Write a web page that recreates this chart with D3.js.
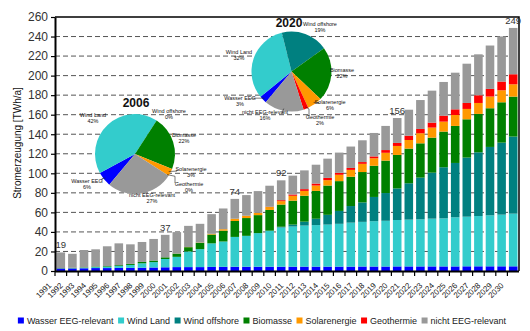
<!DOCTYPE html>
<html>
<head>
<meta charset="utf-8">
<script src="https://cdn.jsdelivr.net/npm/d3@7"></script>
<style>
body { margin: 0; background: #fff; }
svg { font-family: "Liberation Sans", Arial, sans-serif; }
</style>
</head>
<body>
<svg id="chart" width="530" height="331"></svg>
<script>
// categories
var years = [1991, 1992, 1993, 1994, 1995, 1996, 1997, 1998, 1999, 2000,
    2001, 2002, 2003, 2004, 2005, 2006, 2007, 2008, 2009, 2010,
    2011, 2012, 2013, 2014, 2015, 2016, 2017, 2018, 2019, 2020,
    2021, 2022, 2023, 2024, 2025, 2026, 2027, 2028, 2029, 2030]

// TWh/a per series
var wasser = [2.5, 2.6, 2.8, 3.0, 3.0, 3.2, 3.2, 3.4, 3.6, 3.8,
    4.0, 4.0, 4.0, 4.2, 4.3, 4.4, 4.4, 4.4, 4.4, 4.4,
    4.4, 4.5, 4.5, 4.5, 4.5, 4.5, 4.6, 4.6, 4.6, 4.7,
    4.7, 4.7, 4.7, 4.7, 4.7, 4.8, 4.8, 4.8, 4.8, 4.8]
var windLand = [0.2, 0.3, 0.6, 1.0, 1.5, 2.0, 3.0, 4.5, 5.5, 8.5,
    10.5, 16.0, 18.4, 24.1, 25.9, 30.5, 31.6, 34.4, 36.6, 40.1,
    41.1, 42.0, 42.5, 43.0, 43.8, 45.0, 45.7, 46.4, 46.8, 47.5,
    47.9, 48.2, 48.9, 49.2, 50.3, 50.8, 51.5, 52.2, 52.9, 53.9]
var windOffshore = [0, 0, 0, 0, 0, 0, 0, 0, 0, 0,
    0, 0, 0, 0, 0, 0, 0, 0, 0.3, 0.8,
    2.0, 4.0, 6.5, 10.0, 13.2, 17.0, 19.9, 24.8, 28.4, 32.3,
    37.2, 42.7, 47.1, 52.3, 55.6, 60.5, 65.2, 70.0, 73.7, 78.9]
var biomasse = [0.3, 0.4, 0.4, 0.6, 0.6, 0.8, 1.1, 1.4, 1.6, 1.7,
    3.3, 4.4, 6.5, 9.0, 11.1, 16.3, 18.2, 18.4, 21.2, 22.7,
    24.5, 26.5, 28.5, 30.0, 30.5, 30.0, 31.1, 31.9, 33.2, 34.3,
    35.5, 35.1, 35.8, 36.5, 37.9, 39.2, 39.3, 39.6, 41.3, 40.9]
var solar = [0, 0, 0, 0, 0, 0, 0, 0, 0, 0,
    0.1, 0.2, 0.3, 0.8, 1.5, 2.3, 2.4, 2.4, 3.0, 3.5,
    5.0, 5.0, 5.5, 5.5, 6.5, 7.0, 8.4, 7.7, 8.0, 9.2,
    8.8, 10.3, 10.3, 10.2, 11.2, 10.6, 11.2, 12.0, 12.3, 12.6]
var geothermie = [0, 0, 0, 0, 0, 0, 0, 0, 0, 0,
    0, 0, 0, 0, 0, 0, 0, 0, 0.3, 1.0,
    1.3, 1.8, 2.0, 2.3, 2.0, 2.0, 1.8, 1.9, 2.8, 3.1,
    4.4, 4.4, 5.1, 6.1, 5.8, 6.1, 7.9, 7.8, 8.9, 10.3]
var nichtEEG = [16.0, 14.3, 17.7, 17.6, 20.2, 22.3, 20.0, 20.4, 22.1, 23.0,
    21.9, 21.6, 19.1, 20.1, 21.2, 20.3, 21.1, 22.2, 21.5, 20.3,
    19.3, 19.2, 19.3, 19.7, 20.7, 21.9, 22.3, 24.0, 24.7, 25.5,
    26.6, 29.6, 32.7, 34.5, 37.5, 40.2, 41.9, 44.4, 46.2, 47.4]

var seriesNames = ["Wasser EEG-relevant", "Wind Land", "Wind offshore", "Biomasse",
    "Solarenergie", "Geothermie", "nicht EEG-relevant"]
var seriesColors = ["#0000ff", "#33cccc", "#008080", "#008000", "#ff9900", "#ff0000", "#999999"]

// totals written above some bars
var totalLabelYears = [1991, 2000, 2006, 2010, 2020, 2030]
var totalLabelValues = [19, 37, 74, 92, 156, 249]

var yTicks = [0, 20, 40, 60, 80, 100, 120, 140, 160, 180, 200, 220, 240, 260]

// pie shares in %
var pieYears = [2006, 2020]
var pieNames = ["Wasser EEG", "Wind Land", "Wind offshore", "Biomasse",
    "Solarenergie", "Geothermie", "nicht EEG-relevant"]
var pie2006 = [6, 42, 0, 22, 3, 0, 27]
var pie2020 = [3, 32, 19, 22, 6, 2, 16]

// layout of the pies (not data)
var pieLayout = [
    { cx: 135, cy: 154, r: 40, title: [136, 107],
      labels: [[87, 183], [93, 117], [169, 112.5], [184, 136.5], [191, 171], [189, 185.5], [152, 197]],
      leaders: { 0: [102, 181], 4: [177, 169.5], 5: [175, 183] } },
    { cx: 291.5, cy: 71.5, r: 40, title: [289, 27],
      labels: [[240, 100], [239, 54], [320, 25.5], [342, 72], [330, 104], [320, 119], [265, 114]],
      leaders: { 0: [251, 98], 4: [319, 104], 5: [309, 117], 6: [283, 113] } }
]

var svg = d3.select("#chart")
var plotLeft = 55, plotRight = 519, plotTop = 17, plotBottom = 271

var x = d3.scaleBand().domain(years).range([plotLeft, plotRight]).paddingInner(0.26).paddingOuter(0.13)
var y = d3.scaleLinear().domain([0, 260]).range([plotBottom, plotTop])

// dashed grid
svg.append("g").selectAll("line").data(yTicks.filter(function(t) { return t > 0 && t < 260 }))
    .enter().append("line")
    .attr("x1", plotLeft).attr("x2", plotRight)
    .attr("y1", function(d) { return y(d) }).attr("y2", function(d) { return y(d) })
    .attr("stroke", "#555").attr("stroke-width", 1).attr("stroke-dasharray", "5,3")

// stacked bars
var keys = ["wasser", "windLand", "windOffshore", "biomasse", "solar", "geothermie", "nichtEEG"]
var seriesValues = [wasser, windLand, windOffshore, biomasse, solar, geothermie, nichtEEG]
var rows = years.map(function(yr, i) {
    var r = { year: yr }
    keys.forEach(function(k, j) { r[k] = seriesValues[j][i] })
    return r
})
var stacked = d3.stack().keys(keys)(rows)

svg.append("g").selectAll("g").data(stacked).enter().append("g")
    .attr("fill", function(d, i) { return seriesColors[i] })
    .selectAll("rect").data(function(d) { return d }).enter().append("rect")
    .attr("x", function(d) { return x(d.data.year) })
    .attr("width", x.bandwidth())
    .attr("y", function(d) { return y(d[1]) })
    .attr("height", function(d) { return Math.max(0, y(d[0]) - y(d[1])) })

// frame: top and right border
svg.append("path").attr("d", "M" + plotLeft + "," + plotTop + "H" + plotRight + "V" + plotBottom)
    .attr("fill", "none").attr("stroke", "#000").attr("stroke-width", 1.5)

// y axis
var yAxis = d3.axisLeft(y).tickValues(yTicks).tickSize(4).tickSizeOuter(0).tickPadding(3)
var yg = svg.append("g").attr("transform", "translate(" + plotLeft + ",0)").call(yAxis)
yg.select(".domain").attr("stroke", "#000").attr("stroke-width", 2)
yg.selectAll(".tick line").attr("stroke", "#000").attr("stroke-width", 1.2)
yg.selectAll("text").attr("font-size", "12px").attr("fill", "#333")
    .attr("font-family", "'Liberation Sans', Arial, sans-serif")

// x axis with ticks between categories
var step = x.step()
svg.append("line").attr("x1", plotLeft).attr("x2", plotRight).attr("y1", plotBottom + 0.5).attr("y2", plotBottom + 0.5)
    .attr("stroke", "#000").attr("stroke-width", 2)
svg.append("g").selectAll("line").data(years).enter().append("line")
    .attr("x1", function(d) { return x(d) + x.bandwidth() / 2 - step / 2 })
    .attr("x2", function(d) { return x(d) + x.bandwidth() / 2 - step / 2 })
    .attr("y1", plotBottom).attr("y2", plotBottom + 5)
    .attr("stroke", "#000").attr("stroke-width", 1.2)
svg.append("g").selectAll("text").data(years).enter().append("text")
    .attr("transform", function(d) {
        return "translate(" + (x(d) + x.bandwidth() / 2 - 9) + "," + (plotBottom + 15) + ") rotate(-45)"
    })
    .attr("text-anchor", "end").attr("font-size", "8px").attr("fill", "#222")
    .text(function(d) { return d })

// y axis title
svg.append("text")
    .attr("transform", "translate(21,143) rotate(-90)")
    .attr("text-anchor", "middle").attr("font-size", "10px").attr("fill", "#111")
    .text("Stromerzeugung [TWh/a]")

// total labels
var topSeries = stacked[stacked.length - 1]
svg.append("g").selectAll("text").data(totalLabelYears).enter().append("text")
    .attr("x", function(d) { return x(d) + x.bandwidth() / 2 })
    .attr("y", function(d) { return y(topSeries[years.indexOf(d)][1]) - 4 })
    .attr("text-anchor", "middle").attr("font-size", "9.5px").attr("fill", "#333")
    .text(function(d, i) { return totalLabelValues[i] })

// pies
var pieGen = d3.pie().sort(null).value(function(d) { return d })
    .startAngle(220 * Math.PI / 180).endAngle(220 * Math.PI / 180 + 2 * Math.PI)
var pieData = [pie2006, pie2020]

pieYears.forEach(function(yr, p) {
    var lay = pieLayout[p]
    var arcs = pieGen(pieData[p])
    var arc = d3.arc().innerRadius(0).outerRadius(lay.r)
    var g = svg.append("g")
    g.append("g").attr("transform", "translate(" + lay.cx + "," + lay.cy + ")")
        .selectAll("path").data(arcs).enter().append("path")
        .attr("d", arc)
        .attr("fill", function(d, i) { return seriesColors[i] })
    g.append("text").attr("x", lay.title[0]).attr("y", lay.title[1])
        .attr("text-anchor", "middle").attr("font-size", "12px").attr("font-weight", "bold")
        .attr("fill", "#111").text(yr)
    // leader lines
    Object.keys(lay.leaders).forEach(function(k) {
        var a = arcs[k]
        var mid = (a.startAngle + a.endAngle) / 2
        var sx = lay.cx + Math.sin(mid) * (lay.r - 2)
        var sy = lay.cy - Math.cos(mid) * (lay.r - 2)
        var e = lay.leaders[k]
        g.append("polyline")
            .attr("points", [[sx, sy], [e[0], sy + (e[1] - sy) * 0.2], e].join(" "))
            .attr("fill", "none").attr("stroke", "#222").attr("stroke-width", 0.6)
    })
    // slice labels
    var lbl = g.append("g").selectAll("text").data(arcs).enter().append("text")
        .attr("text-anchor", "middle").attr("font-size", "5.5px").attr("fill", "#111")
    lbl.append("tspan")
        .attr("x", function(d, i) { return lay.labels[i][0] })
        .attr("y", function(d, i) { return lay.labels[i][1] })
        .text(function(d, i) { return pieNames[i] })
    lbl.append("tspan")
        .attr("x", function(d, i) { return lay.labels[i][0] })
        .attr("y", function(d, i) { return lay.labels[i][1] + 6 })
        .text(function(d) { return d.data + "%" })
})

// legend
var legend = svg.append("g").attr("font-size", "9px").attr("fill", "#222")
var lx = 0
var items = legend.selectAll("g").data(seriesNames).enter().append("g")
items.append("rect").attr("width", 6).attr("height", 6).attr("y", -6)
    .attr("fill", function(d, i) { return seriesColors[i] })
items.append("text").attr("x", 9).attr("y", 0).text(function(d) { return d })
items.each(function() {
    var w = this.querySelector("text").getComputedTextLength()
    d3.select(this).attr("transform", "translate(" + lx + ",0)")
    lx += 9 + w + 4.5
})
legend.attr("transform", "translate(" + (262 - (lx - 4.5) / 2) + ",323.5)")
</script>
</body>
</html>
